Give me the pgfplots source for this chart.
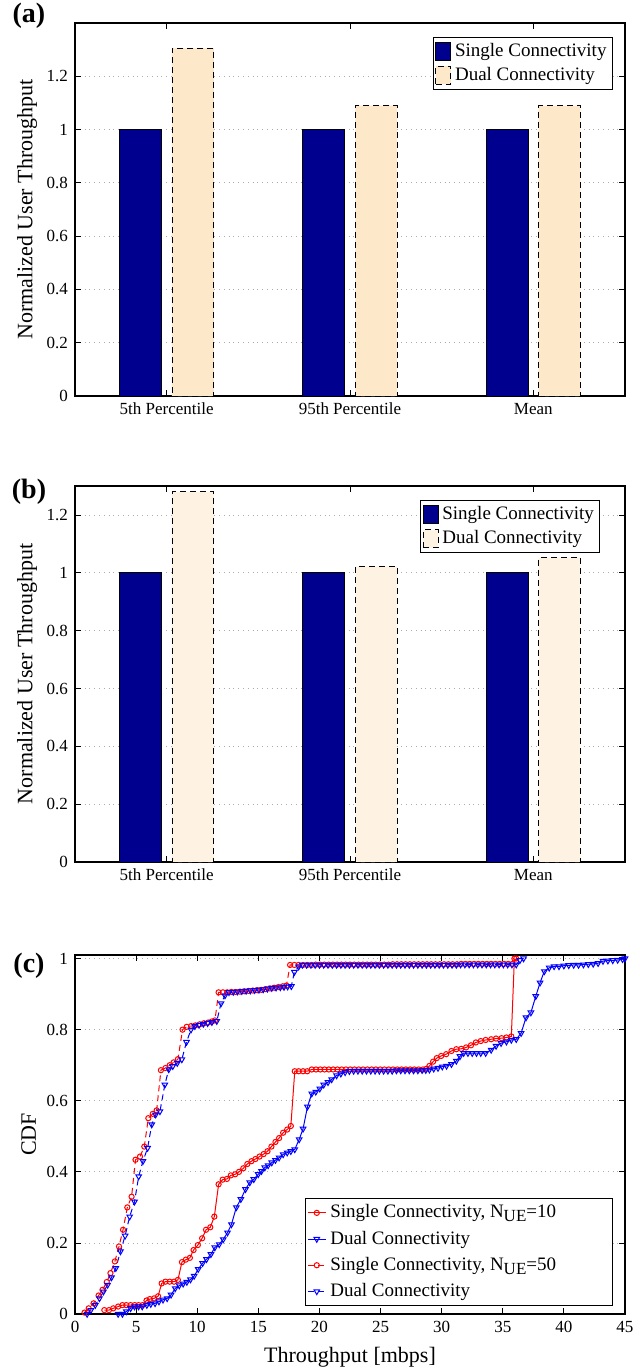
\documentclass[border=0pt]{standalone}
\usepackage{fontspec}
\setmainfont{Liberation Serif}
\usepackage{pgfplots}
\pgfplotsset{compat=1.18}

\definecolor{scblue}{RGB}{0,0,143}
\definecolor{dcA}{RGB}{253,233,201}
\definecolor{dcB}{RGB}{254,243,226}

\newcommand{\NUE}{N\raisebox{-0.45ex}{\fontsize{8.5}{9}\selectfont UE}}

\pgfplotsset{
  common/.style={
    scale only axis, width=275pt,
    tick align=inside, major tick length=3pt,
    tick style={black, line width=0.4pt},
    ymajorgrids, grid style={gray!65, dotted, line width=0.4pt},
    tick label style={font=\fontsize{8.5}{10}\selectfont},
    label style={font=\fontsize{11}{12}\selectfont},
    /pgf/number format/assume math mode=true,
  },
  barpanel/.style={
    common,
    axis line style={line width=0.6pt},
    xmin=0.5, xmax=3.5, ymin=0,
    xtick={1,2,3}, xticklabels={5th Percentile,95th Percentile,Mean},
    ytick={0,0.2,0.4,0.6,0.8,1,1.2},
    ylabel={Normalized User Throughput},
    ylabel style={at={(axis description cs:-0.087,0.5)}, anchor=center},
    legend style={font=\fontsize{9.5}{11}\selectfont, draw=black,
      inner sep=1pt, row sep=0pt, cells={anchor=west}},
    legend image code/.code={\draw[#1] (0pt,-4.5pt) rectangle (7.5pt,4.5pt);},
  },
}

\begin{document}
\begin{tikzpicture}
\useasboundingbox (0,0) rectangle (320pt,-685pt);

% (a)
\begin{axis}[barpanel, at={(37.5pt,-11.5pt)}, anchor=north west,
  height=186.5pt, ymax=1.4,
  legend style={at={(0.978,0.963)}, anchor=north east}]
\addplot[ybar, bar width=0.228, bar shift=-0.143, fill=scblue, draw=black, line width=0.4pt]
  coordinates {(1,1) (2,1) (3,1)};
\addlegendentry{Single Connectivity}
\addplot[ybar, bar width=0.228, bar shift=0.143, fill=dcA, draw=black, densely dashed, line width=0.4pt]
  coordinates {(1,1.305) (2,1.09) (3,1.09)};
\addlegendentry{Dual Connectivity}
\end{axis}

% (b)
\begin{axis}[barpanel, at={(37.5pt,-243pt)}, anchor=north west,
  height=188pt, ymax=1.3,
  legend style={at={(0.955,0.963)}, anchor=north east}]
\addplot[ybar, bar width=0.228, bar shift=-0.143, fill=scblue, draw=black, line width=0.4pt]
  coordinates {(1,1) (2,1) (3,1)};
\addlegendentry{Single Connectivity}
\addplot[ybar, bar width=0.228, bar shift=0.143, fill=dcB, draw=black, densely dashed, line width=0.4pt]
  coordinates {(1,1.28) (2,1.022) (3,1.052)};
\addlegendentry{Dual Connectivity}
\end{axis}

% (c)
\begin{axis}[common, at={(37.5pt,-477.5pt)}, anchor=north west,
  height=179.5pt,
  axis line style={line width=0.9pt},
  xmin=0, xmax=45, ymin=0, ymax=1.01,
  xtick={0,5,...,45}, ytick={0,0.2,0.4,0.6,0.8,1},
  xlabel={Throughput [mbps]}, ylabel={CDF},
  xlabel style={at={(axis description cs:0.5,0)}, anchor=center, yshift=-21.5pt},
  ylabel style={at={(axis description cs:-0.084,0.5)}, anchor=center},
  legend style={at={(0.978,0.022)}, anchor=south east,
    font=\fontsize{9.5}{11}\selectfont, draw=black, line width=0.6pt,
    inner sep=1pt, row sep=1pt, cells={anchor=west}},
  legend image code/.code={\draw[mark repeat=2,mark phase=2,#1]
    plot coordinates {(0pt,0pt) (4.5pt,0pt) (9pt,0pt)};},
]
% Single Connectivity, N_UE=10
\addplot[red, line width=0.5pt, mark=o, mark size=1.3pt, mark options={solid}] coordinates {
(2.4,0.011) (2.78,0.011) (3.13,0.016) (3.53,0.021) (3.88,0.025) (4.2,0.025) (4.55,0.025)
(4.88,0.025) (5.2,0.025) (5.53,0.025) (5.85,0.038) (6.12,0.042) (6.47,0.044) (6.8,0.05)
(7.09,0.086) (7.4,0.091) (7.75,0.091) (8.1,0.091) (8.42,0.096) (8.75,0.146) (9.07,0.153)
(9.4,0.158) (9.7,0.18) (10.05,0.194) (10.4,0.213) (10.72,0.237) (11.07,0.244) (11.4,0.274)
(11.75,0.365) (12.08,0.378) (12.43,0.38) (12.75,0.39) (13.1,0.393) (13.42,0.4) (13.77,0.41)
(14.1,0.422) (14.44,0.43) (14.76,0.436) (15.1,0.443) (15.43,0.45) (15.75,0.458) (16.07,0.471)
(16.4,0.484) (16.7,0.495) (17.03,0.51) (17.36,0.519) (17.66,0.529) (17.98,0.683) (18.3,0.683)
(18.66,0.683) (19.0,0.683) (19.37,0.688) (19.72,0.688) (20.07,0.688) (20.42,0.688) (20.77,0.688)
(21.12,0.688) (21.47,0.688) (21.82,0.688) (22.17,0.688) (22.52,0.688) (22.87,0.688) (23.22,0.688)
(23.57,0.688) (23.92,0.688) (24.27,0.688) (24.62,0.688) (24.97,0.688) (25.32,0.688) (25.67,0.688)
(26.02,0.688) (26.37,0.688) (26.72,0.688) (27.07,0.688) (27.42,0.688) (27.77,0.688) (28.12,0.688)
(28.47,0.688) (28.75,0.69) (29.0,0.698) (29.3,0.71) (29.6,0.72) (29.96,0.726) (30.37,0.731)
(30.8,0.74) (31.2,0.745) (31.6,0.746) (32.0,0.75) (32.4,0.756) (32.8,0.764) (33.2,0.768)
(33.6,0.771) (34.05,0.773) (34.45,0.775) (34.9,0.776) (35.3,0.778) (35.7,0.781) (35.95,1.0)
};
\addlegendentry{\makebox[138pt][l]{Single Connectivity, \NUE=10}}
% Dual Connectivity, N_UE=10
\addplot[blue, line width=0.5pt, mark=triangle, mark size=1.6pt, mark options={solid, rotate=180}] coordinates {
(3.53,0.0) (3.88,0.0) (4.2,0.007) (4.55,0.016) (4.87,0.021) (5.2,0.021) (5.5,0.021)
(5.88,0.025) (6.2,0.028) (6.55,0.03) (6.87,0.035) (7.2,0.04) (7.54,0.044) (7.86,0.054)
(8.2,0.072) (8.53,0.08) (8.85,0.085) (9.15,0.09) (9.45,0.097) (9.75,0.107) (10.08,0.126)
(10.44,0.143) (10.76,0.154) (11.12,0.168) (11.44,0.187) (11.8,0.196) (12.13,0.21) (12.48,0.229)
(12.8,0.252) (13.2,0.3) (13.57,0.323) (13.95,0.351) (14.3,0.37) (14.63,0.379) (14.99,0.393)
(15.26,0.402) (15.53,0.412) (15.8,0.418) (16.1,0.426) (16.4,0.433) (16.7,0.44) (17.03,0.449)
(17.36,0.454) (17.66,0.458) (17.98,0.463) (18.34,0.491) (18.66,0.521) (19.02,0.583) (19.37,0.62)
(19.7,0.625) (20.03,0.634) (20.35,0.645) (20.7,0.652) (21.0,0.66) (21.4,0.671) (21.75,0.676)
(22.1,0.68) (22.45,0.683) (22.8,0.684) (23.15,0.684) (23.5,0.684) (23.85,0.684) (24.2,0.684)
(24.55,0.684) (24.9,0.684) (25.25,0.684) (25.6,0.684) (25.95,0.684) (26.3,0.685) (26.65,0.685)
(27.0,0.685) (27.35,0.685) (27.7,0.685) (28.05,0.685) (28.4,0.686) (28.7,0.686) (29.0,0.687)
(29.35,0.69) (29.7,0.692) (30.05,0.696) (30.4,0.698) (30.8,0.703) (31.2,0.712) (31.5,0.725)
(31.8,0.734) (32.15,0.734) (32.5,0.734) (32.85,0.734) (33.2,0.734) (33.6,0.734) (34.05,0.743)
(34.45,0.754) (34.86,0.762) (35.3,0.766) (35.7,0.771) (36.1,0.773) (36.5,0.79) (36.9,0.834)
(37.3,0.848) (37.7,0.894) (38.05,0.932) (38.4,0.964) (38.8,0.974) (39.2,0.978) (39.6,0.978)
(40.0,0.98) (40.4,0.981) (40.8,0.982) (41.2,0.982) (41.6,0.983) (42.0,0.984) (42.4,0.985)
(42.8,0.987) (43.2,0.993) (43.6,0.994) (44.0,0.995) (44.4,0.996) (44.8,0.998) (45.0,1.0)
};
\addlegendentry{Dual Connectivity}
% Single Connectivity, N_UE=50
\addplot[red, line width=0.5pt, densely dashed, mark=o, mark size=1.3pt, mark options={solid}] coordinates {
(0.78,0.004) (1.12,0.016) (1.52,0.03) (1.93,0.052) (2.25,0.068) (2.6,0.09) (2.9,0.115)
(3.26,0.148) (3.6,0.19) (3.93,0.237) (4.28,0.3) (4.63,0.33) (4.95,0.434) (5.32,0.443)
(5.67,0.471) (6.0,0.551) (6.36,0.563) (6.68,0.573) (7.03,0.686) (7.4,0.692) (7.75,0.7)
(8.07,0.708) (8.42,0.717) (8.8,0.8) (9.14,0.808) (9.5,0.81) (9.85,0.812) (10.2,0.815)
(10.55,0.818) (10.9,0.82) (11.2,0.823) (11.45,0.826) (11.75,0.905) (12.1,0.905) (12.45,0.905)
(12.8,0.906) (13.15,0.906) (13.5,0.907) (13.85,0.908) (14.2,0.909) (14.55,0.91) (14.9,0.911)
(15.25,0.912) (15.6,0.914) (15.95,0.916) (16.3,0.918) (16.65,0.92) (17.0,0.922) (17.3,0.924)
(17.6,0.982) (17.95,0.982) (18.3,0.982) (18.65,0.982) (19.0,0.982) (19.35,0.982) (19.7,0.983)
(20.05,0.983) (20.4,0.983) (20.75,0.983) (21.1,0.983) (21.45,0.983) (21.8,0.983) (22.15,0.983)
(22.5,0.983) (22.85,0.983) (23.2,0.983) (23.55,0.983) (23.9,0.983) (24.25,0.983) (24.6,0.983)
(24.95,0.983) (25.3,0.983) (25.65,0.983) (26.0,0.984) (26.35,0.984) (26.7,0.984) (27.05,0.984)
(27.4,0.984) (27.75,0.984) (28.1,0.984) (28.45,0.984) (28.8,0.984) (29.15,0.984) (29.5,0.984)
(29.85,0.984) (30.2,0.984) (30.55,0.984) (30.9,0.984) (31.25,0.984) (31.6,0.985) (31.95,0.985)
(32.3,0.985) (32.65,0.985) (33.0,0.985) (33.35,0.985) (33.7,0.985) (34.05,0.985) (34.4,0.985)
(34.75,0.985) (35.1,0.985) (35.45,0.985) (35.8,0.985) (36.1,1.0)
};
\addlegendentry{Single Connectivity, \NUE=50}
% Dual Connectivity, N_UE=50
\addplot[blue, line width=0.5pt, densely dashed, mark=triangle, mark size=1.6pt, mark options={solid, rotate=180}] coordinates {
(0.99,0.0) (1.3,0.011) (1.66,0.025) (2.0,0.044) (2.33,0.063) (2.67,0.082) (2.99,0.103)
(3.34,0.129) (3.72,0.176) (4.1,0.22) (4.47,0.274) (4.87,0.316) (5.21,0.387) (5.56,0.43)
(5.94,0.467) (6.28,0.533) (6.6,0.561) (6.95,0.57) (7.35,0.645) (7.67,0.688) (8.0,0.697)
(8.37,0.706) (8.74,0.716) (9.12,0.765) (9.49,0.8) (9.8,0.81) (10.15,0.813) (10.5,0.816)
(10.85,0.818) (11.2,0.821) (11.6,0.824) (11.95,0.874) (12.27,0.896) (12.6,0.905) (12.95,0.906)
(13.3,0.907) (13.65,0.908) (14.0,0.909) (14.35,0.91) (14.7,0.911) (15.05,0.912) (15.4,0.913)
(15.75,0.915) (16.1,0.917) (16.45,0.918) (16.8,0.919) (17.1,0.92) (17.4,0.921) (17.7,0.922)
(17.95,0.962) (18.3,0.977) (18.6,0.982) (18.95,0.982) (19.3,0.982) (19.65,0.982) (20.0,0.982)
(20.35,0.982) (20.7,0.982) (21.05,0.982) (21.4,0.982) (21.75,0.982) (22.1,0.982) (22.45,0.982)
(22.8,0.982) (23.15,0.982) (23.5,0.982) (23.85,0.982) (24.2,0.982) (24.55,0.982) (24.9,0.982)
(25.25,0.982) (25.6,0.982) (25.95,0.982) (26.3,0.982) (26.65,0.982) (27.0,0.982) (27.35,0.982)
(27.7,0.982) (28.05,0.982) (28.4,0.982) (28.75,0.982) (29.1,0.982) (29.45,0.982) (29.8,0.982)
(30.15,0.982) (30.5,0.982) (30.85,0.982) (31.2,0.982) (31.55,0.983) (31.9,0.983) (32.25,0.983)
(32.6,0.983) (32.95,0.983) (33.3,0.983) (33.65,0.983) (34.0,0.983) (34.35,0.983) (34.7,0.983)
(35.05,0.983) (35.4,0.983) (35.75,0.983) (36.1,0.983) (36.4,0.995) (36.7,1.0)
};
\addlegendentry{Dual Connectivity}
\end{axis}

\node[font=\bfseries\fontsize{14}{15}\selectfont] at (14.5pt,-8pt) {(a)};
\node[font=\bfseries\fontsize{14}{15}\selectfont] at (14.5pt,-246pt) {(b)};
\node[font=\bfseries\fontsize{14}{15}\selectfont] at (14.5pt,-483pt) {(c)};
\end{tikzpicture}
\end{document}
